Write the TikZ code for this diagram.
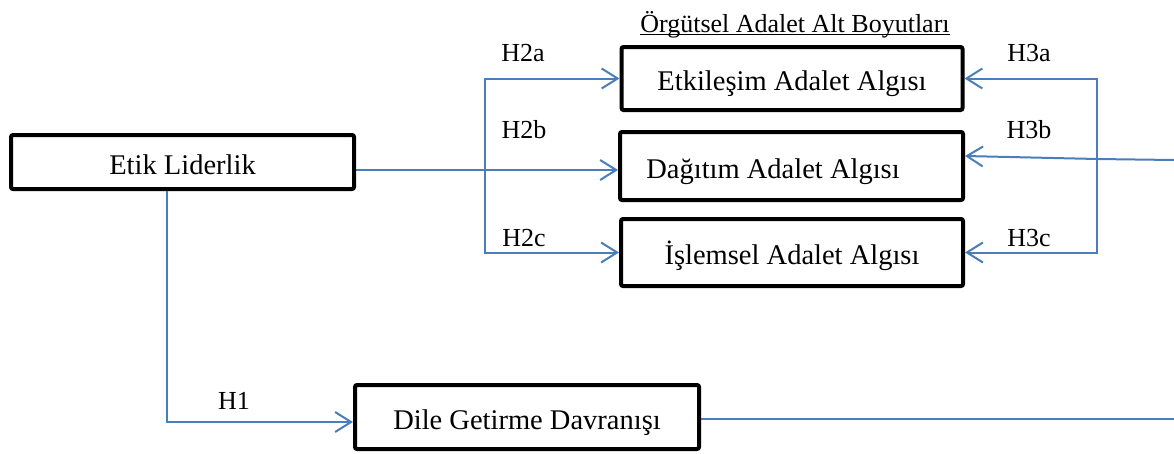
\documentclass[tikz,border=0pt]{standalone}
\usepackage{fontspec}
\setmainfont{Liberation Serif}
\usetikzlibrary{arrows.meta}
\definecolor{linkblue}{RGB}{74,126,187}

\begin{document}
\begin{tikzpicture}[x=1pt, y=-1pt,
		varbox/.style={draw=black, line width=4pt, rounded corners=2pt, fill=white,
			text height=24pt, text depth=0pt, font=\fontsize{28.5}{30}\selectfont},
		link/.style={draw=linkblue, line width=2pt,
			-{Straight Barb[length=16pt, width=20pt]}},
		hyp/.style={inner sep=0pt, font=\fontsize{26}{28}\selectfont}]
		\useasboundingbox (0,0) rectangle (1174,453);
		
		% --- TITLE ---
		\node[anchor=base, inner sep=0pt, font=\fontsize{26}{28}\selectfont] (baslik) at (795,32) {Örgütsel Adalet Alt Boyutları};
		\draw[line width=1pt] ([yshift=-2pt]baslik.base west) -- ([yshift=-2pt]baslik.base east);
		
		% --- BOXES ---
		\node[varbox, minimum width=343pt, minimum height=54pt] (etik) at (182.5,162) {Etik Liderlik};
		\node[varbox, minimum width=341pt, minimum height=63pt] (etkilesim) at (792,78.5) {Etkileşim Adalet Algısı};
		\node[varbox, minimum width=343pt, minimum height=68pt] (dagitim) at (791.5,166) {Dağıtım Adalet Algısı\hspace*{37pt}};
		\node[varbox, minimum width=342pt, minimum height=67pt] (islemsel) at (792,252.5) {İşlemsel Adalet Algısı};
		\node[varbox, minimum width=344pt, minimum height=64pt] (dile) at (527,417) {Dile Getirme Davranışı};
		
		% --- JUNCTIONS ---
		\coordinate (h2) at (485,170);
		\coordinate (h3) at (1097,159);
		\coordinate (h3in) at (1174,160);
		\coordinate (h1) at (167,422);
		\coordinate (dileout) at (1174,419);
		
		% --- H2: Etik Liderlik -> sub-dimensions ---
		\draw[link] (etik.east |- h2) -- (dagitim.west |- h2);
		\draw[link] (h2) |- (etkilesim.west);
		\draw[link] (h2) |- (islemsel.west);
		
		% --- H3: from the right ---
		\draw[link] (h3in) -- (h3) -- ([yshift=10pt]dagitim.east);
		\draw[link] (h3) |- (etkilesim.east);
		\draw[link] (h3) |- (islemsel.east);
		
		% --- H1 ---
		\draw[link] (etik.south -| h1) -- (h1) -- (dile.west |- h1);
		\draw[link, -] (dile.east |- dileout) -- (dileout);
		
		% --- LABELS ---
		\foreach \lab/\x/\y in {H2a/523/53, H2b/524/130, H2c/524/238,
			H3a/1029/53, H3b/1029/130, H3c/1029/238, H1/234/401} {
			\node[hyp] (\lab) at (\x,\y) {\lab};
		}
		
	\end{tikzpicture}
\end{document}
